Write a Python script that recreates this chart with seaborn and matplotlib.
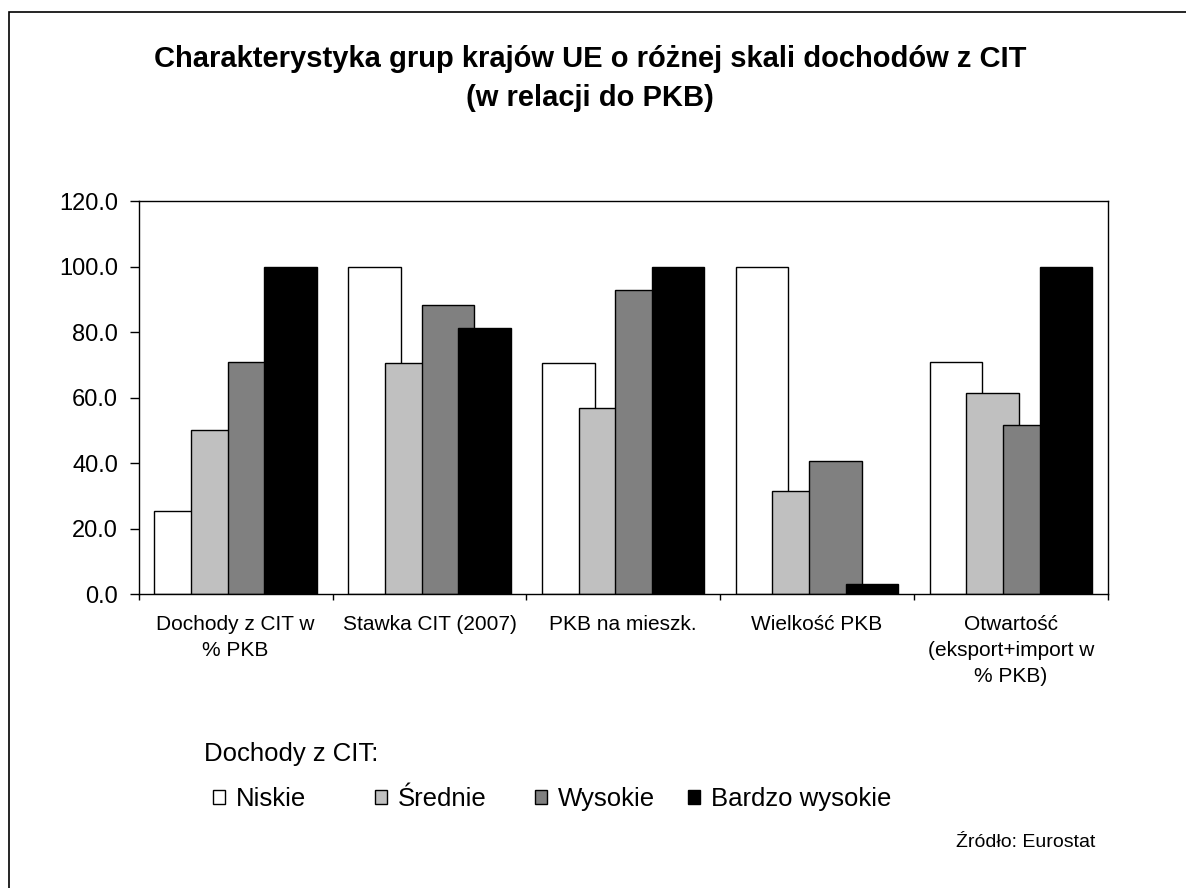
import numpy as np
import pandas as pd
import matplotlib
matplotlib.use("Agg")
import matplotlib.pyplot as plt
import seaborn as sns
from matplotlib.patches import Rectangle
from matplotlib.ticker import FormatStrFormatter

categories = ["Dochody z CIT w\n% PKB", "Stawka CIT (2007)", "PKB na mieszk.",
              "Wielkość PKB", "Otwartość\n(eksport+import w\n% PKB)"]
groups = ["Niskie", "Średnie", "Wysokie", "Bardzo wysokie"]
niskie = [25.5, 100.0, 70.5, 100.0, 71.0]
srednie = [50.0, 70.5, 57.0, 31.5, 61.3]
wysokie = [71.0, 88.2, 92.9, 40.8, 51.6]
bardzo_wysokie = [100.0, 81.2, 100.0, 3.1, 100.0]
colors = ["#FFFFFF", "#C0C0C0", "#808080", "#000000"]

series = [niskie, srednie, wysokie, bardzo_wysokie]
df = pd.DataFrame({
    "kategoria": categories * len(groups),
    "grupa": [g for g in groups for _ in categories],
    "wartosc": [v for s in series for v in s],
})

sns.set_theme(style="white")
plt.rcParams['font.family'] = ['Liberation Sans', 'DejaVu Sans']
plt.rcParams['text.color'] = 'black'
plt.rcParams['xtick.color'] = 'black'
plt.rcParams['ytick.color'] = 'black'

W, H = 1186, 888
fig = plt.figure(figsize=(W / 100, H / 100), dpi=100)
ax = fig.add_axes([0.117, 0.3307, 0.817, 0.4429])

sns.barplot(data=df, x="kategoria", y="wartosc", hue="grupa", order=categories,
            hue_order=groups, palette=colors, saturation=1, edgecolor="black",
            linewidth=1, width=0.84, ax=ax)

# Excel-style overlapping bars: wider bars, smaller step between series
step = 0.189
bar_w = 0.271
for i, cont in enumerate(ax.containers):
    for p in cont:
        g = round(p.get_x() + p.get_width() / 2)
        c = g + (i - 1.5) * step
        p.set_x(c - bar_w / 2)
        p.set_width(bar_w)

handles, labels = ax.get_legend_handles_labels()
ax.get_legend().remove()

ax.set_xlim(-0.5, 4.5)
ax.set_ylim(0, 120)
ax.set_yticks(np.arange(0, 121, 20))
ax.yaxis.set_major_formatter(FormatStrFormatter("%.1f"))
ax.set_xticks(np.arange(-0.5, 5, 1))
ax.set_xticklabels([])
ax.set_xticks(range(len(categories)), minor=True)
ax.set_xticklabels(categories, minor=True, fontsize=15, linespacing=1.45)
ax.tick_params(axis="x", which="major", direction="out", length=4.5, width=1, bottom=True)
ax.tick_params(axis="x", which="minor", length=0, pad=15)
ax.tick_params(axis="y", direction="out", length=6.3, width=1, left=True,
               labelsize=17, pad=8.5)
ax.set_xlabel("")
ax.set_ylabel("")
for s in ax.spines.values():
    s.set_color("black")
    s.set_linewidth(1)

# title, two centred lines
fig.text(0.4975, 1 - 67 / H, "Charakterystyka grup krajów UE o różnej skali dochodów z CIT",
         ha="center", va="baseline", fontsize=21, fontweight="bold")
fig.text(0.4975, 1 - 106 / H, "(w relacji do PKB)",
         ha="center", va="baseline", fontsize=21, fontweight="bold")

fig.text(204 / W, 1 - 761 / H, "Dochody z CIT:", ha="left", va="baseline", fontsize=18.5)

# legend entries placed like in the original (Excel spacing)
legend_x = [213, 375, 535, 688]
for h, l, lx in zip(handles, labels, legend_x):
    fig.legend([h], [l], loc="center left", bbox_to_anchor=(lx / W, 1 - 799 / H),
               frameon=False, fontsize=18.5, handlelength=0.45, handleheight=0.45,
               handletextpad=0.45, borderpad=0, borderaxespad=0)

fig.text(1095 / W, 1 - 847 / H, "Źródło: Eurostat", ha="right", va="baseline", fontsize=14)

fig.add_artist(Rectangle((8.5 / W, -0.05), 1.1, 1 - 12 / H + 0.05,
                         transform=fig.transFigure, fill=False, edgecolor="black", linewidth=1.2))

fig.savefig("out.png", dpi=100)
